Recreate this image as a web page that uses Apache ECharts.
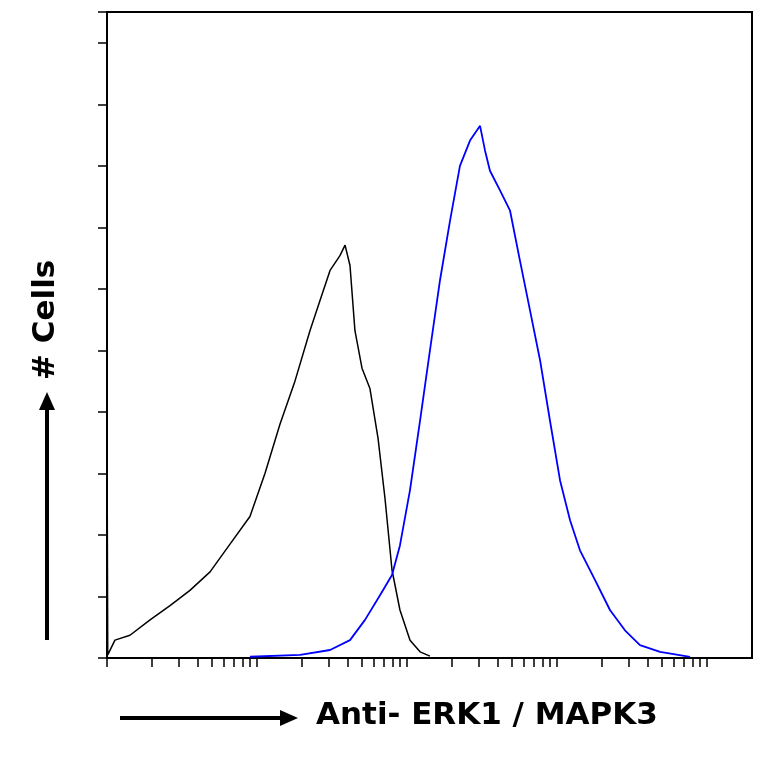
<!DOCTYPE html>
<html>
<head>
<meta charset="utf-8">
<script src="https://cdn.jsdelivr.net/npm/echarts@6/dist/echarts.min.js"></script>
<style>html,body{margin:0;background:#fff}#c{width:764px;height:764px}</style>
</head>
<body>
<div id="c"></div>
<script>
// x in log10 units (decades), y in count units
var controlX = [0, 0.005, 0.053, 0.153, 0.287, 0.42, 0.553, 0.687, 0.82, 0.953, 1.053, 1.153, 1.253, 1.353, 1.42, 1.487, 1.553, 1.587, 1.62, 1.653, 1.7, 1.753, 1.807, 1.853, 1.9, 1.953, 2.02, 2.087, 2.153];
var controlY = [3.7, 0.05, 0.29, 0.37, 0.62, 0.85, 1.1, 1.4, 1.85, 2.3, 3.0, 3.8, 4.5, 5.32, 5.81, 6.3, 6.54, 6.71, 6.38, 5.32, 4.71, 4.38, 3.57, 2.6, 1.43, 0.78, 0.29, 0.1, 0.03];
var erkX = [0.953, 1.287, 1.487, 1.62, 1.72, 1.82, 1.9, 1.953, 2.02, 2.087, 2.153, 2.22, 2.287, 2.353, 2.42, 2.487, 2.52, 2.553, 2.62, 2.687, 2.753, 2.82, 2.887, 2.953, 3.02, 3.087, 3.153, 3.253, 3.353, 3.453, 3.553, 3.687, 3.887];
var erkY = [0.02, 0.05, 0.13, 0.29, 0.62, 1.02, 1.35, 1.83, 2.73, 3.86, 5.0, 6.14, 7.11, 8.0, 8.41, 8.65, 8.25, 7.92, 7.6, 7.27, 6.46, 5.65, 4.84, 3.86, 2.89, 2.24, 1.75, 1.27, 0.78, 0.45, 0.21, 0.1, 0.02];

function pairs(xs, ys) {
    var out = [];
    for (var i = 0; i < xs.length; i++) out.push([xs[i], ys[i]]);
    return out;
}
// log-style tick positions 1..9 x 10^k
var logTicks = [];
for (var k = 0; k < 5; k++) {
    for (var m = 1; m <= 9; m++) {
        var v = k + Math.log10(m);
        if (v <= 4.3) logTicks.push(v);
    }
}

var chart = echarts.init(document.getElementById('c'));
chart.setOption({
    animation: false,
    grid: {left: 107, top: 12, width: 645, height: 646, show: true, borderColor: '#000', borderWidth: 2},
    xAxis: {
        type: 'value', min: 0, max: 4.3,
        axisLine: {show: true, lineStyle: {color: '#000', width: 2}},
        axisTick: {show: true, customValues: logTicks, length: 9, lineStyle: {color: '#000', width: 1.5}},
        axisLabel: {show: false}, splitLine: {show: false}
    },
    yAxis: {
        type: 'value', min: 0, max: 10.5, interval: 1,
        axisLine: {show: true, lineStyle: {color: '#000', width: 2}},
        axisTick: {show: true, length: 9, lineStyle: {color: '#000', width: 1.5}},
        axisLabel: {show: false}, splitLine: {show: false}
    },
    series: [
        {type: 'line', data: pairs(controlX, controlY), symbol: 'none', lineStyle: {color: '#000', width: 1.5}},
        {type: 'line', data: pairs(erkX, erkY), symbol: 'none', lineStyle: {color: '#0000ff', width: 1.8}}
    ],
    graphic: [
        {type: 'text', x: 316, y: 700, style: {text: 'Anti- ERK1 / MAPK3', font: 'bold 31px "DejaVu Sans", sans-serif', fill: '#000'}},
        {type: 'line', shape: {x1: 120, y1: 718, x2: 285, y2: 718}, style: {stroke: '#000', lineWidth: 4}},
        {type: 'polygon', shape: {points: [[280, 710], [298, 718], [280, 726]]}, style: {fill: '#000'}},
        {type: 'text', x: 30, y: 380, rotation: Math.PI / 2, style: {text: '# Cells', font: 'bold 31px "DejaVu Sans", sans-serif', fill: '#000'}},
        {type: 'line', shape: {x1: 47, y1: 640, x2: 47, y2: 405}, style: {stroke: '#000', lineWidth: 4}},
        {type: 'polygon', shape: {points: [[39, 410], [47, 392], [55, 410]]}, style: {fill: '#000'}}
    ]
});
</script>
</body>
</html>
